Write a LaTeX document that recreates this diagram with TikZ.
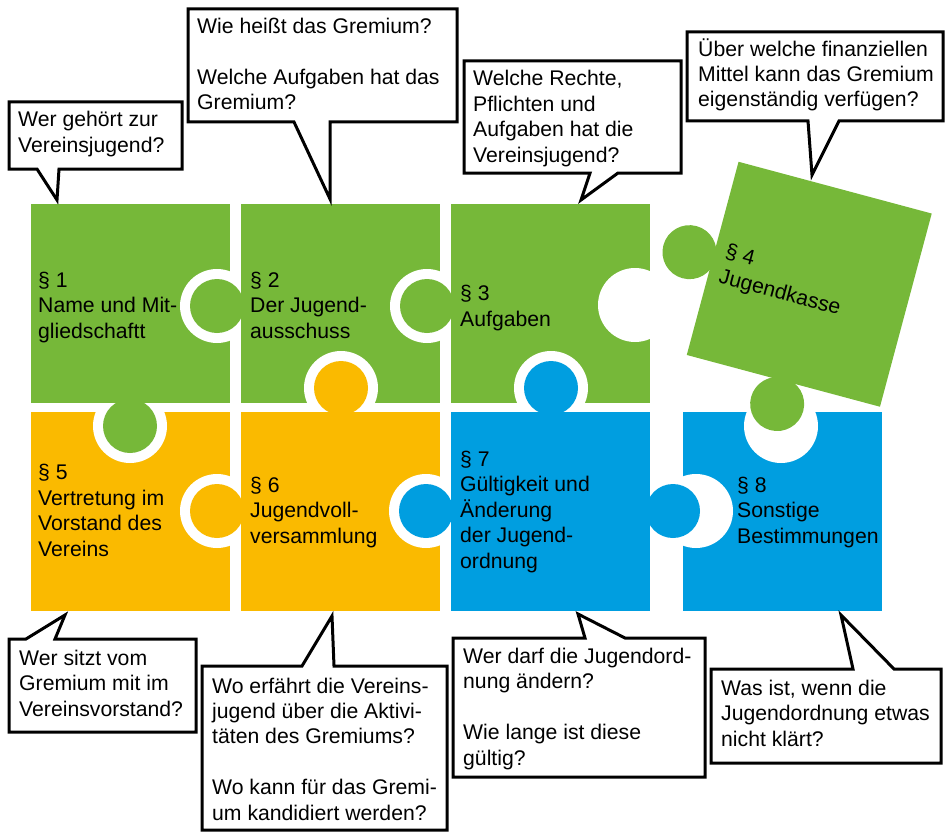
\documentclass[tikz,border=0pt]{standalone}
\usepackage{fontspec}
\setmainfont{Liberation Sans}
\usepackage{tikz}
\usetikzlibrary{positioning}

\definecolor{pgreen}{RGB}{118,184,57}
\definecolor{pyellow}{RGB}{250,186,0}
\definecolor{pblue}{RGB}{0,158,224}

\begin{document}
\begin{tikzpicture}[x=1pt, y=-1pt,
    bubble/.style={draw=black, fill=white, line width=3pt, line join=miter},
    % anchored at the baseline of the last line
    ptxt/.style={anchor=base west, inner sep=0pt, align=left,
      font=\fontsize{21.2}{25.4}\selectfont}]
  \useasboundingbox (0,0) rectangle (947,832);

  % the squares
  \fill[pgreen] (31,204) rectangle ++(199,199);
  \fill[pgreen] (241,204) rectangle ++(199,199);
  \fill[pgreen] (451,204) rectangle ++(199,199);
  \fill[pyellow] (31,412) rectangle ++(199,199);
  \fill[pyellow] (241,412) rectangle ++(199,199);
  \fill[pblue] (451,412) rectangle ++(199,199);
  \fill[pblue] (683,412) rectangle ++(199,199);

  % holes, cut only into the piece that takes the knob
  \foreach \xa/\ya/\cx/\cy in {31/204/217/306, 241/204/427/306, 451/204/635/305,
      31/412/130/426, 241/204/341/388, 451/204/551/388, 31/412/217/511,
      241/412/426/511, 683/412/696/511, 683/412/781/426}
  {
    \begin{scope}
      \clip (\xa,\ya) rectangle ++(199,199);
      \fill[white] (\cx,\cy) circle (37);
    \end{scope}
  }

  % knobs
  \foreach \cx/\cy/\col in {217/306/pgreen, 427/306/pgreen, 130/426/pgreen,
      341/388/pyellow, 551/388/pblue, 217/511/pyellow, 426/511/pblue, 673/511/pblue}
    \fill[\col] (\cx,\cy) circle (27);

  % loose piece
  \begin{scope}[shift={(809.25,284.25)}, rotate=-15]
    \fill[pgreen] (-100,-100) rectangle (100,100);
    \fill[pgreen] (-124,0) circle (27);
    \fill[pgreen] (0,124) circle (27);
    \node[ptxt, rotate=-15] (p4) at (-89,22) {§ 4\\Jugendkasse};
  \end{scope}

  \node[ptxt] (p1) at (38,338) {§ 1\\Name und Mit-\\gliedschaftt};
  \node[ptxt] (p2) at (250,338) {§ 2\\Der Jugend-\\ausschuss};
  \node[ptxt] (p3) at (460,326) {§ 3\\Aufgaben};
  \node[ptxt] (p5) at (38,556) {§ 5\\Vertretung im\\Vorstand des\\Vereins};
  \node[ptxt] (p6) at (250,543) {§ 6\\Jugendvoll-\\versammlung};
  \node[ptxt] (p7) at (460,568) {§ 7\\Gültigkeit und\\Änderung\\der Jugend-\\ordnung};
  \node[ptxt] (p8) at (737,543) {§ 8\\Sonstige\\Bestimmungen};

  % speech bubbles
  \draw[bubble] (9,102) -- (182,102) -- (182,169) -- (59,169) -- (57,200)
    -- (37,169) -- (9,169) -- cycle;
  \draw[bubble] (188,9) -- (457,9) -- (457,122) -- (330,122) -- (330,199)
    -- (294,122) -- (188,122) -- cycle;
  \draw[bubble] (464,61) -- (681,61) -- (681,173) -- (618,173) -- (581,200)
    -- (590,173) -- (464,173) -- cycle;
  \draw[bubble] (687,32) -- (943,32) -- (943,121) -- (839,121) -- (812,175)
    -- (808,121) -- (687,121) -- cycle;
  \draw[bubble] (9,639) -- (26,639) -- (65,615) -- (55,639) -- (196,639)
    -- (196,732) -- (9,732) -- cycle;
  \draw[bubble] (202,666) -- (302,666) -- (332,616) -- (334,666) -- (447,666)
    -- (447,830) -- (202,830) -- cycle;
  \draw[bubble] (453,638) -- (585,638) -- (578,614) -- (625,638) -- (705,638)
    -- (705,777) -- (453,777) -- cycle;
  \draw[bubble] (711,669) -- (853,669) -- (841,615) -- (894,669) -- (941,669)
    -- (941,763) -- (711,763) -- cycle;

  \node[ptxt] (q1) at (18,152) {Wer gehört zur\\Vereinsjugend?};
  \node[ptxt] (q2) at (197,110) {Wie heißt das Gremium?\\~\\Welche Aufgaben hat das\\Gremium?};
  \node[ptxt] (q3) at (473,162) {Welche Rechte,\\Pflichten und\\Aufgaben hat die\\Vereinsjugend?};
  \node[ptxt] (q4) at (698,107) {Über welche finanziellen\\Mittel kann das Gremium\\eigenständig verfügen?};
  \node[ptxt] (q5) at (19,716) {Wer sitzt vom\\Gremium mit im\\Vereinsvorstand?};
  \node[ptxt] (q6) at (212,820) {Wo erfährt die Vereins-\\jugend über die Aktivi-\\täten des Gremiums?\\~\\Wo kann für das Gremi-\\um kandidiert werden?};
  \node[ptxt] (q7) at (463,765) {Wer darf die Jugendord-\\nung ändern?\\~\\Wie lange ist diese\\gültig?};
  \node[ptxt] (q8) at (721,746) {Was ist, wenn die\\Jugendordnung etwas\\nicht klärt?};
\end{tikzpicture}
\end{document}
